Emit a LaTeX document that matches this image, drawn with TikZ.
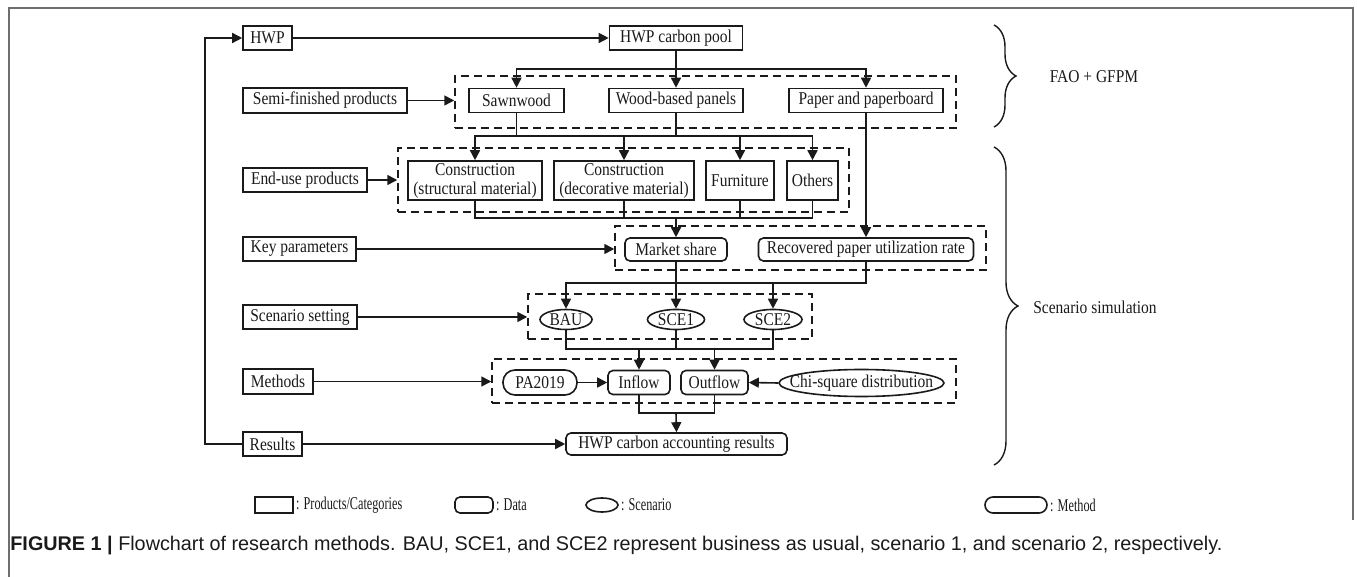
\documentclass[tikz,border=0pt]{standalone}
\usepackage{fontspec}
\setmainfont{Liberation Serif}[FakeStretch=0.86]
\newfontfamily\legfont{Liberation Serif}[FakeStretch=0.68]
\newfontfamily\capfont{Liberation Sans}
\usetikzlibrary{arrows.meta,shapes.geometric,decorations.pathreplacing}
\definecolor{ink}{HTML}{1A1A1A}
\definecolor{framec}{HTML}{6E6E6E}
\tikzset{
  box/.style={draw=ink, line width=0.8pt, inner sep=1pt, font=\fontsize{9}{9.5}\selectfont, align=center, text=ink},
  prod/.style={box, rectangle},
  data/.style={box, rectangle, rounded corners=2.5pt},
  meth/.style={box, rectangle, rounded corners=6pt},
  scentxt/.style={box, draw=none, rectangle},
  grp/.style={draw=ink, dashed, dash pattern=on 4pt off 2.5pt, line width=0.75pt, rectangle, inner sep=0pt},
  arr/.style={draw=ink, line width=0.8pt, -{Triangle[length=5pt,width=5pt]}},
  ln/.style={draw=ink, line width=0.8pt},
  txt/.style={font=\fontsize{9}{9.5}\selectfont, text=ink, inner sep=1pt},
  legtxt/.style={font=\legfont\fontsize{9}{9.5}\selectfont, text=ink, inner sep=1pt, anchor=west},
  brc/.style={draw=ink, line width=0.7pt, decorate},
}
\newcommand\ellnode[6]{%
  \node[scentxt, minimum width=2*#4pt, minimum height=2*#5pt] (#1) at (#2,#3) {#6};
  \draw[ln] (#1.center) ellipse [x radius=#4pt, y radius=#5pt];}
\begin{document}
\begin{tikzpicture}[x=0.5pt,y=-0.5pt]
\useasboundingbox (0,0) rectangle (1357,577);
% frame
\draw[framec, line width=0.9pt] (9,577) -- (9,8) -- (1353,8) -- (1353,520);

% groups
\node[grp, minimum width=250.5pt, minimum height=26pt] (g1) at (705.5,102) {};
\node[grp, minimum width=225.5pt, minimum height=32pt] (g2) at (623.5,180) {};
\node[grp, minimum width=185.5pt, minimum height=22pt] (g3) at (800.5,248) {};
\node[grp, minimum width=142pt, minimum height=22.5pt] (g4) at (670,316.5) {};
\node[grp, minimum width=232pt, minimum height=22pt] (g5) at (724,381) {};

% left column
\node[prod, minimum width=24.5pt, minimum height=12pt] (hwp) at (267.5,38) {HWP};
\node[prod, minimum width=82pt, minimum height=12.5pt] (semi) at (325,100.5) {Semi-finished products};
\node[prod, minimum width=62pt, minimum height=12pt] (enduse) at (305,180) {End-use products};
\node[prod, minimum width=56.5pt, minimum height=12pt] (key) at (299.5,249) {Key parameters};
\node[prod, minimum width=57pt, minimum height=12pt] (scen) at (300,317) {Scenario setting};
\node[prod, minimum width=35pt, minimum height=12.5pt] (meth) at (278,381.5) {Methods};
\node[prod, minimum width=29.5pt, minimum height=12pt] (res) at (272.5,444) {Results};

% row 1-2
\node[prod, minimum width=66.5pt, minimum height=12pt] (pool) at (676,38) {HWP carbon pool};
\node[prod, minimum width=47.5pt, minimum height=12pt] (sawn) at (516.5,100.5) {Sawnwood};
\node[prod, minimum width=67pt, minimum height=12pt] (wood) at (676,100.5) {Wood-based panels};
\node[prod, minimum width=77pt, minimum height=12pt] (paper) at (866,100.5) {Paper and paperboard};

% row 3
\node[prod, minimum width=67pt, minimum height=19.5pt] (cs) at (475,180.5) {Construction\\(structural material)};
\node[prod, minimum width=70pt, minimum height=19.5pt] (cd) at (624,180.5) {Construction\\(decorative material)};
\node[prod, minimum width=34pt, minimum height=19.5pt] (furn) at (740,180.5) {Furniture};
\node[prod, minimum width=25.5pt, minimum height=19.5pt] (oth) at (812.5,180.5) {Others};

% row 4
\node[data, minimum width=51pt, minimum height=11.5pt] (ms) at (676,249.5) {Market share};
\node[data, minimum width=107.5pt, minimum height=11.5pt] (rp) at (866,249.5) {Recovered paper utilization rate};

% row 5
\ellnode{bau}{566}{319.5}{13}{5}{BAU}
\ellnode{sce1}{676}{319.5}{14.25}{5}{SCE1}
\ellnode{sce2}{773}{319.5}{14.5}{5}{SCE2}

% row 6
\node[meth, minimum width=37pt, minimum height=12.5pt] (pa) at (540,382.5) {PA2019};
\node[data, minimum width=31pt, minimum height=12pt] (infl) at (639,382.5) {Inflow};
\node[data, minimum width=33.5pt, minimum height=12pt] (outf) at (714.5,382.5) {Outflow};
\ellnode{chi}{861.5}{383}{41.25}{6.75}{Chi-square distribution}

% row 7
\node[data, minimum width=110.5pt, minimum height=11pt] (acc) at (676.5,444) {HWP carbon accounting results};

% connectors
\draw[arr] (hwp.east) -- (pool.west);
\coordinate (b1) at (676,69);
\draw[ln] (pool.south) -- (b1);
\draw[arr] (b1) -| (sawn.north);
\draw[arr] (b1) -- (wood.north);
\draw[arr] (b1) -| (paper.north);
\draw[arr] (semi.east) -- (semi.east -| g1.west);

\coordinate (b2) at (676,136);
\draw[ln] (sawn.south) -- (sawn.south |- b2);
\draw[ln] (wood.south) -- (b2);
\draw[arr] (b2) -| (cs.north);
\draw[arr] (b2) -| (cd.north);
\draw[arr] (b2) -| (furn.north);
\draw[arr] (b2) -| (oth.north);
\draw[arr] (enduse.east) -- (enduse.east -| g2.west);

\coordinate (b3) at (676,218);
\draw[ln] (cs.south) |- (b3);
\draw[ln] (cd.south) |- (b3);
\draw[ln] (furn.south) |- (b3);
\draw[ln] (oth.south) |- (b3);
\draw[arr] (b3) -- (ms.north);
\draw[arr] (paper.south) -- (rp.north);
\draw[arr] (key.east) -- (key.east -| g3.west);

\coordinate (b4) at (676,283);
\draw[ln] (ms.south) -- (b4);
\draw[ln] (rp.south) |- (b4);
\draw[arr] (b4) -| (bau.north);
\draw[arr] (b4) -- (sce1.north);
\draw[arr] (b4) -| (sce2.north);
\draw[arr] (scen.east) -- (scen.east -| g4.west);

\coordinate (b5) at (676,349);
\draw[ln] (bau.south) |- (b5);
\draw[ln] (sce1.south) -- (b5);
\draw[ln] (sce2.south) |- (b5);
\draw[arr] (b5) -| (infl.north);
\draw[arr] (b5) -| (outf.north);
\draw[arr] (meth.east) -- (meth.east -| g5.west);
\draw[arr] (pa.east) -- (infl.west);
\draw[arr] (chi.west) -- (outf.east);

\coordinate (b6) at (676,413);
\draw[ln] (infl.south) |- (b6);
\draw[ln] (outf.south) |- (b6);
\draw[arr] (b6) -- (acc.north);
\draw[arr] (res.east) -- (acc.west);
\coordinate (fb) at (205,444);
\draw[arr] (res.west) -- (fb) |- (hwp.west);

% braces
\draw[brc, decoration={brace, amplitude=11pt}] (994,25) -- (994,127);
\node[txt] (fao) at (1094,77) {FAO + GFPM};
\draw[brc, decoration={brace, amplitude=12pt}] (994,147) -- (994,465);
\node[txt] (ssim) at (1095,307) {Scenario simulation};

% legend
\node[prod, minimum width=19pt, minimum height=8pt, inner sep=0pt] (lgp) at (274,505) {};
\node[legtxt] (lgpt) at (lgp.east) {: Products/Categories};
\node[data, minimum width=19pt, minimum height=8pt, inner sep=0pt] (lgd) at (474,505) {};
\node[legtxt] (lgdt) at (lgd.east) {: Data};
\node[box, ellipse, minimum width=16pt, minimum height=7pt, inner sep=0pt] (lgs) at (602,505) {};
\node[legtxt] (lgst) at (lgs.east) {: Scenario};
\node[meth, minimum width=31pt, minimum height=8pt, inner sep=0pt, rounded corners=4pt] (lgm) at (1016,505) {};
\node[legtxt] (lgmt) at (lgm.east) {: Method};

% caption
\node[anchor=west, inner sep=0pt, font=\capfont\fontsize{9.9}{11}\selectfont, text=ink] (cap) at (10,546)
  {\textbf{FIGURE 1} \textbf{|} Flowchart of research methods. BAU, SCE1, and SCE2 represent business as usual, scenario 1, and scenario 2, respectively.};
\end{tikzpicture}
\end{document}
